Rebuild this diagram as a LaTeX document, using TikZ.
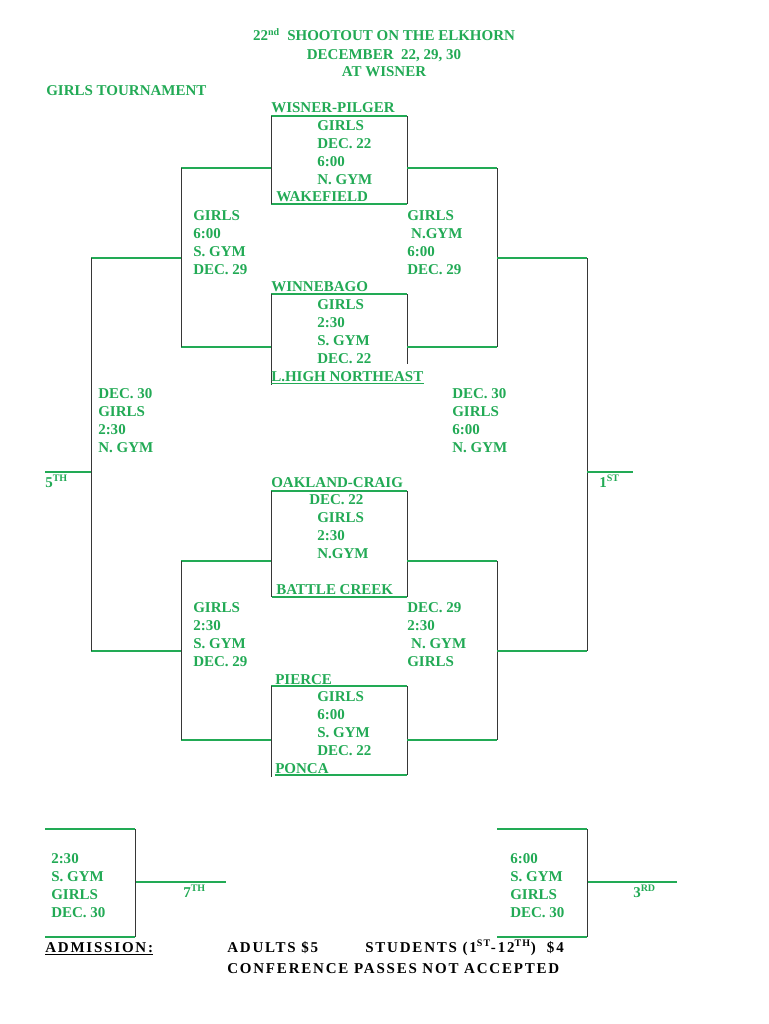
\documentclass[tikz,border=0pt]{standalone}
\usepackage{fontspec}
\setmainfont{Liberation Serif}
\usetikzlibrary{positioning}
\definecolor{BracketGreen}{RGB}{34,170,85}
\definecolor{BracketDark}{RGB}{55,55,55}

\begin{document}
\begin{tikzpicture}[x=0.28112mm, y=-0.28112mm,
    lbl/.style={anchor=north west, inner sep=0pt, align=left, text=BracketGreen,
      font=\fontsize{12}{14.35}\selectfont\bfseries},
    ttl/.style={anchor=base, inner sep=0pt, text=BracketGreen,
      font=\fontsize{12}{14.35}\selectfont\bfseries},
    note/.style={anchor=base west, inner sep=0pt, text=black,
      font=\fontsize{12}{14.35}\selectfont\bfseries\addfontfeatures{LetterSpace=12}},
    gline/.style={draw=BracketGreen, line width=1.2pt},
    dline/.style={draw=BracketDark, line width=0.8pt}
  ]
    \useasboundingbox[fill=white] (0,0) rectangle (768,1024);

    % heading
    \node[ttl] (t1) at (384,41) {22\textsuperscript{nd}\ \ SHOOTOUT ON THE ELKHORN};
    \node[ttl] (t2) at (384,59) {DECEMBER\ \ 22, 29, 30};
    \node[ttl] (t3) at (384,77) {AT WISNER};
    \node[lbl] (girls) at (46,85) {GIRLS TOURNAMENT};

    % first round games
    \draw[gline] (271,116) -- (407,116) (271,204) -- (407,204);
    \draw[dline] (271,116) -- (271,204) (407,116) -- (407,204);
    \draw[gline] (271,294) -- (407,294);
    \draw[dline] (271,294) -- (271,385) (407,294) -- (407,364);
    \draw[gline] (271,491) -- (407,491) (272,597) -- (407,597);
    \draw[dline] (271,491) -- (271,597) (407,491) -- (407,597);
    \draw[gline] (271,686) -- (407,686) (275,775) -- (407,775);
    \draw[dline] (271,686) -- (271,777) (407,686) -- (407,775);

    % second round brackets
    \draw[gline] (181,168) -- (271,168) (181,347) -- (271,347)
                 (407,168) -- (497,168) (407,347) -- (497,347);
    \draw[dline] (181,168) -- (181,347) (497,168) -- (497,347);
    \draw[gline] (181,561) -- (271,561) (181,740) -- (271,740)
                 (407,561) -- (497,561) (407,740) -- (497,740);
    \draw[dline] (181,561) -- (181,740) (497,561) -- (497,740);

    % final brackets
    \draw[gline] (91,258) -- (181,258) (91,651) -- (181,651)
                 (497,258) -- (587,258) (497,651) -- (587,651);
    \draw[dline] (91,258) -- (91,651) (587,258) -- (587,651);
    \draw[gline] (45,472) -- (91,472) (587,472) -- (633,472);

    % placing games
    \draw[gline] (45,829) -- (135,829) (45,937) -- (135,937) (135,882) -- (226,882);
    \draw[dline] (135,829) -- (135,937);
    \draw[gline] (497,829) -- (587,829) (497,937) -- (587,937) (587,882) -- (677,882);
    \draw[dline] (587,829) -- (587,937);

    % teams and game details
    \node[lbl] (wp) at (271,102) {WISNER-PILGER};
    \node[lbl] (g1) at (317,120) {GIRLS\\DEC. 22\\6:00\\N. GYM};
    \node[lbl] (wk) at (276,191) {WAKEFIELD};
    \node[lbl] (wb) at (271,281) {WINNEBAGO};
    \node[lbl] (g2) at (317,299) {GIRLS\\2:30\\S. GYM\\DEC. 22};
    \node[lbl] (lhn) at (271,371) {L.HIGH NORTHEAST};
    \draw[gline, line width=0.9pt] ([yshift=-0.6mm]lhn.south west) -- ([yshift=-0.6mm]lhn.south east);
    \node[lbl] (oc) at (271,477) {OAKLAND-CRAIG};
    \node[lbl] (g3) at (309,494) {DEC. 22\\\hspace*{2.25mm}GIRLS\\\hspace*{2.25mm}2:30\\\hspace*{2.25mm}N.GYM};
    \node[lbl] (bc) at (276,584) {BATTLE CREEK};
    \node[lbl] (pc) at (275,674) {PIERCE};
    \node[lbl] (g4) at (317,691) {GIRLS\\6:00\\S. GYM\\DEC. 22};
    \node[lbl] (pn) at (275,763) {PONCA};

    \node[lbl] (g5) at (193,210) {GIRLS\\6:00\\S. GYM\\DEC. 29};
    \node[lbl] (g6) at (407,210) {GIRLS\\\hspace*{1.1mm}N.GYM\\6:00\\DEC. 29};
    \node[lbl] (g7) at (193,602) {GIRLS\\2:30\\S. GYM\\DEC. 29};
    \node[lbl] (g8) at (407,602) {DEC. 29\\2:30\\\hspace*{1.1mm}N. GYM\\GIRLS};

    \node[lbl] (g9) at (98,388) {DEC. 30\\GIRLS\\2:30\\N. GYM};
    \node[lbl] (g10) at (452,388) {DEC. 30\\GIRLS\\6:00\\N. GYM};
    \node[lbl] (g11) at (51,853) {2:30\\S. GYM\\GIRLS\\DEC. 30};
    \node[lbl] (g12) at (510,853) {6:00\\S. GYM\\GIRLS\\DEC. 30};

    % places
    \node[lbl, anchor=base west] (p5) at (45,487) {5\textsuperscript{TH}};
    \node[lbl, anchor=base west] (p1) at (599,487) {1\textsuperscript{ST}};
    \node[lbl, anchor=base west] (p7) at (183,897) {7\textsuperscript{TH}};
    \node[lbl, anchor=base west] (p3) at (633,897) {3\textsuperscript{RD}};

    % admission
    \node[note] (adm) at (45,952) {\underline{ADMISSION:}};
    \node[note] (adult) at (227,952) {ADULTS \$5};
    \node[note] (stud) at (365,952) {STUDENTS (1\textsuperscript{ST}-12\textsuperscript{TH})\ \ \$4};
    \node[note] (conf) at (227,973) {CONFERENCE PASSES NOT ACCEPTED};
\end{tikzpicture}
\end{document}
